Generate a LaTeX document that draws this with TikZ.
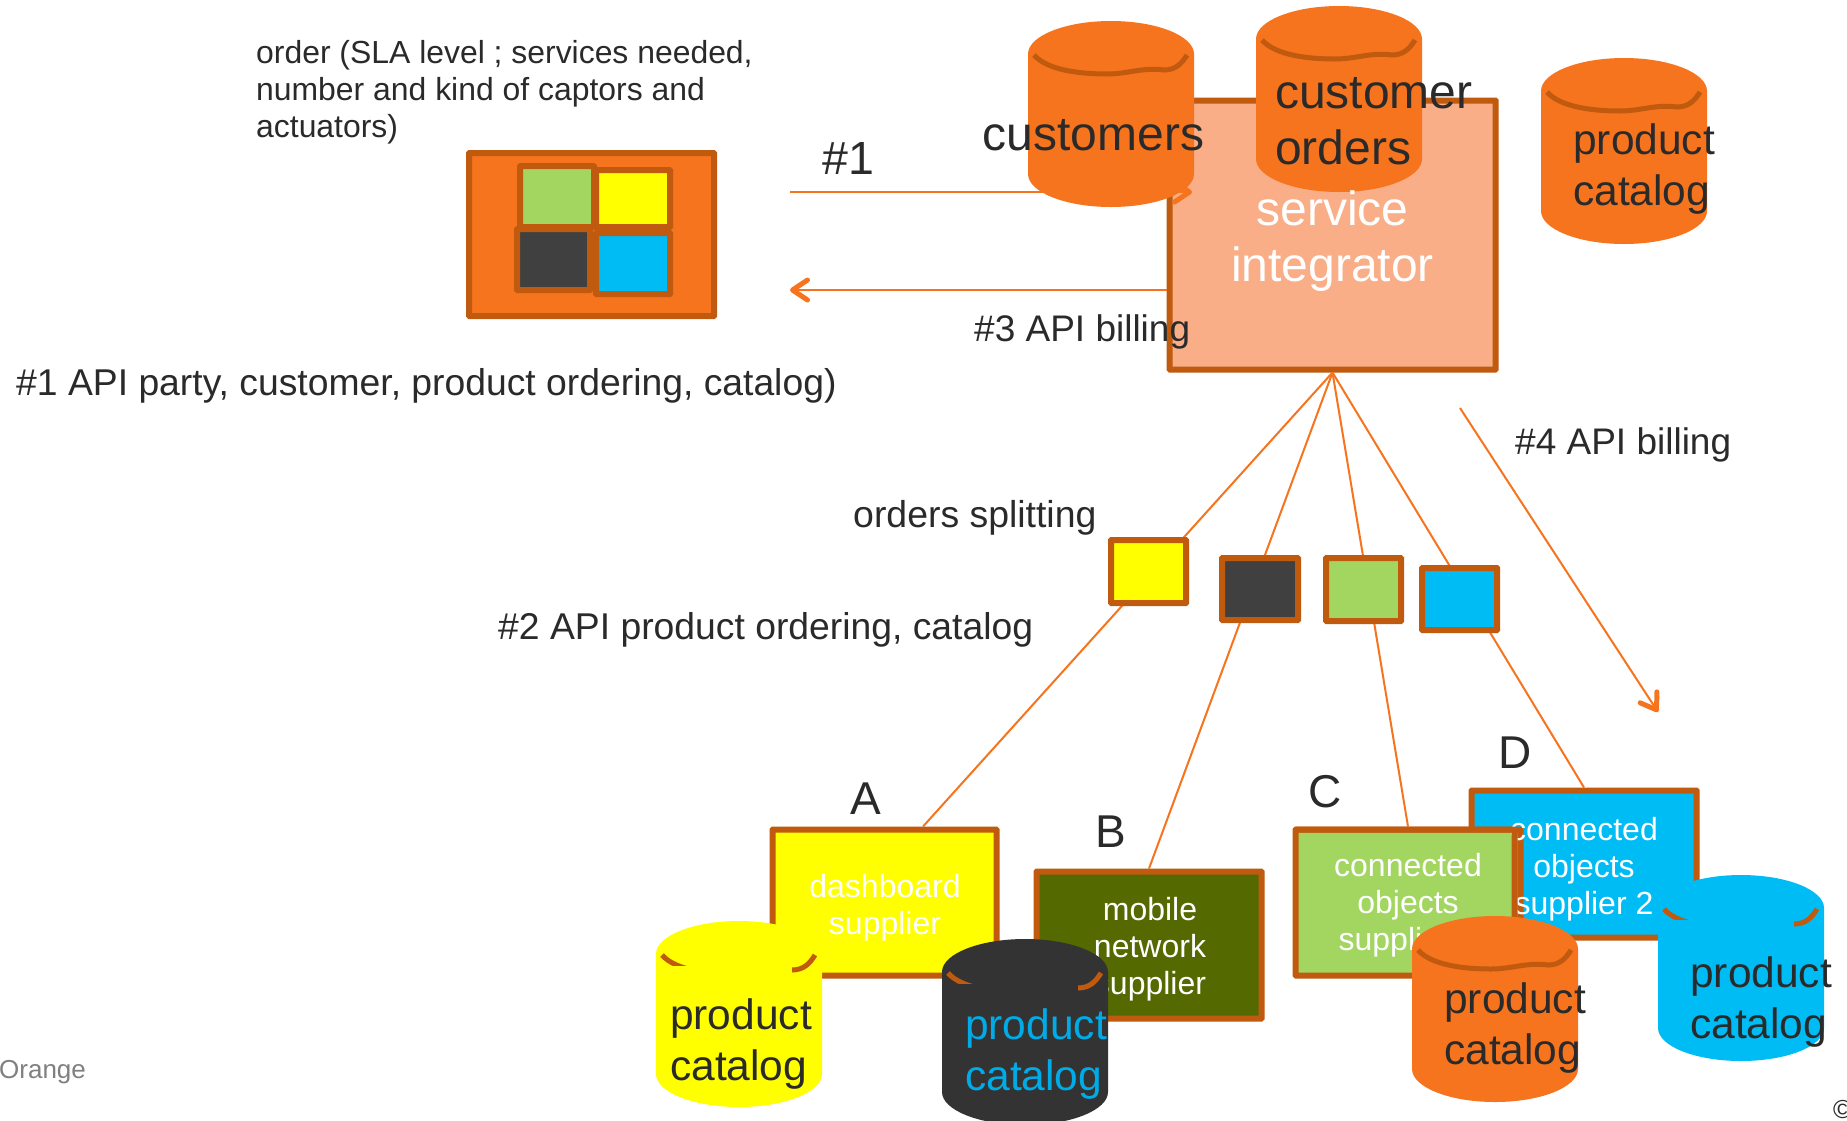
\documentclass[tikz,border=0pt]{standalone}
\usepackage{fontspec}
\setmainfont{Liberation Sans}
\usetikzlibrary{arrows.meta,calc}
\definecolor{ora}{HTML}{F6741E}
\definecolor{bord}{HTML}{C05A0E}
\definecolor{peach}{HTML}{F9AE87}
\definecolor{gree}{HTML}{A2D660}
\definecolor{dgray}{HTML}{404040}
\definecolor{dbgray}{HTML}{333333}
\definecolor{sky}{HTML}{00BCF4}
\definecolor{olive2}{HTML}{546A00}
\definecolor{ink}{HTML}{2A2A2A}
\definecolor{skytext}{HTML}{00ACE8}
\definecolor{yel}{HTML}{FFFF00}
\newcommand{\fnt}[2]{\fontsize{#1}{#2}\selectfont}
\tikzset{
  box/.style={draw=bord,line width=6pt,rounded corners=0.5pt,inner sep=0pt,align=center,anchor=center},
  conn/.style={draw=ora,line width=2pt},
  arr/.style={conn,-{Straight Barb[length=15pt,width=20pt,line width=5pt,round]}},
  big/.style={text=ink,font=\fnt{42.5}{51},align=left,inner sep=0pt},
  lab/.style={text=ink,font=\fnt{33}{37},align=left,inner sep=0pt,anchor=west},
  letter/.style={text=ink,font=\fnt{46}{50},inner sep=0pt},
  sup/.style={text=white,font=\fnt{32}{37},align=center,inner sep=0pt},
}
% x y colour : drum with a whole rim
\newcommand{\drumbody}[3]{%
  \begin{scope}[shift={(#1,#2)}]
    \fill[#3] (0,33) .. controls (0,15) and (37,0) .. (83,0) .. controls (129,0) and (166,15) .. (166,33)
      -- (166,153) .. controls (166,171) and (129,186) .. (83,186) .. controls (37,186) and (0,171) .. (0,153) -- cycle;
    \draw[bord,line width=5pt] (6,34) .. controls (20,50) and (55,53) .. (79,53) .. controls (100,53) and (115,46) .. (136,49) .. controls (148,49) and (154,42) .. (159,34);
  \end{scope}}
% the same with the middle of the rim covered by the body
\newcommand{\drumcut}[3]{%
  \drumbody{#1}{#2}{#3}%
  \begin{scope}[shift={(#1,#2)}]
    \fill[#3] (0,45) rectangle (136,120);
  \end{scope}}
\begin{document}
\begin{tikzpicture}[x=1pt,y=-1pt]
\useasboundingbox (0,0) rectangle (1847,1120);
\fill[white] (0,0) rectangle (1847,1120);

% orders icon
\node[box,fill=ora,minimum width=245pt,minimum height=163pt] (icon) at (591.5,234.5) {};
\node[box,fill=gree,minimum width=74pt,minimum height=61pt] (ig) at (557,196.5) {};
\node[box,fill=yel,minimum width=74pt,minimum height=57pt] (iy) at (633,198.5) {};
\node[box,fill=dgray,minimum width=73pt,minimum height=61pt] (id) at (553.5,259.5) {};
\node[box,fill=sky,minimum width=74pt,minimum height=61pt] (ib) at (633,263.5) {};

% fan of connectors, behind the small boxes
\node[box,fill=peach,minimum width=326pt,minimum height=269pt] (si) at (1332.5,235) {};
\node[box,fill=yel,minimum width=224pt,minimum height=146pt] (supA) at (884.5,902.5) {};
\node[box,fill=olive2,minimum width=225pt,minimum height=147pt] (supB) at (1149,945) {};
\node[box,fill=sky,minimum width=225pt,minimum height=147pt] (supD) at (1584,864) {};
\node[box,fill=gree,minimum width=225pt,minimum height=146pt] (supC) at (1408,902.5) {};

\draw[conn] (si.south) -- ([xshift=38.5pt]supA.north);
\draw[conn] (si.south) -- (supB.north);
\draw[conn] (si.south) -- (supC.north);
\draw[conn] (si.south) -- (supD.north);

\node[box,fill=yel,minimum width=75pt,minimum height=63pt] (sy) at (1148.5,571.5) {};
\node[box,fill=dgray,minimum width=76pt,minimum height=62pt] (sd) at (1260,589) {};
\node[box,fill=gree,minimum width=75pt,minimum height=63pt] (sg) at (1363.5,589.5) {};
\node[box,fill=sky,minimum width=75pt,minimum height=62pt] (sb) at (1459.5,599) {};

% supplier texts
\node[sup] (tA) at (885,907.5) {dashboard\\supplier};
\node[sup] (tB) at (1150,949.5) {mobile\\network\\supplier};
\node[sup] (tC) at (1408,905.5) {connected\\objects\\supplier 1};
\node[sup] (tD) at (1584,869.5) {connected\\objects\\supplier 2};
% box C overlaps the first letter of box D's text
\draw[bord,line width=6pt,rounded corners=0.5pt] (supC.north west) ++(3,3) -- ++(219,0) -- ++(0,140);

% drums
\drumbody{1028}{21}{ora}
\drumbody{1256}{6}{ora}
\drumbody{1541}{58}{ora}
\drumcut{656}{921}{yel}
\drumcut{942}{939}{dbgray}
\drumbody{1412}{916}{ora}
\drumcut{1658}{875}{sky}

% top connectors
\coordinate (c1) at (790,192);
\coordinate (c1e) at (1192,192);
\coordinate (c3) at (790,290);
\coordinate (c4) at (1460,408);
\coordinate (c4e) at (1658,712);
\draw[arr] (c1) -- (c1e);
\draw[arr] ([yshift=-55pt]si.west) -- (c3);
\draw[arr] (c4) -- (c4e);

% drum texts
\node[text=ink,font=\fnt{48}{56},inner sep=0pt] (tcu) at (1093.5,135.5) {customers};
\node[text=ink,font=\fnt{48}{56},align=left,inner sep=0pt,anchor=west] (tco) at (1275,121) {customer\\orders};
\node[text=white,font=\fnt{48}{56},align=center,inner sep=0pt] (tsi) at (1332.5,241.5) {service\\integrator};
\node[big,anchor=west] (p1) at (1573,169) {product\\catalog};
\node[big,anchor=west] (p2) at (670,1044) {product\\catalog};
\node[big,anchor=west,text=skytext] (p3) at (965,1054) {product\\catalog};
\node[big,anchor=west] (p4) at (1444,1028) {product\\catalog};
\node[big,anchor=west] (p5) at (1690,1002) {product\\catalog};

% letters
\node[letter] (lA) at (866,799) {A};
\node[letter] (lB) at (1111,832) {B};
\node[letter] (lC) at (1325,792) {C};
\node[letter] (lD) at (1515,753) {D};

% labels
\node[lab,font=\fnt{31.9}{37}] (order) at (256,92) {order (SLA level ; services needed,\\number and kind of captors and\\actuators)};
\node[text=ink,font=\fnt{46.5}{50},inner sep=0pt] (n1) at (848,158) {\#1};
\node[lab,font=\fnt{37}{40}] (n3) at (974,332) {\#3 API billing};
\node[lab,font=\fnt{37.3}{40}] (n1b) at (16,386) {\#1 API party, customer, product ordering, catalog)};
\node[lab,font=\fnt{37}{40}] (n4) at (1515,445) {\#4 API billing};
\node[lab,font=\fnt{37.4}{40}] (split) at (853,518) {orders splitting};
\node[lab,font=\fnt{37.3}{40}] (n2) at (498,630) {\#2 API product ordering, catalog};
\node[text=gray,font=\fnt{26}{30},inner sep=0pt,anchor=west] (orange) at (-1,1072) {Orange};
\node[text=ink,font=\fnt{26}{30},inner sep=0pt,anchor=west] (copy) at (1833,1110) {©};
\end{tikzpicture}
\end{document}
